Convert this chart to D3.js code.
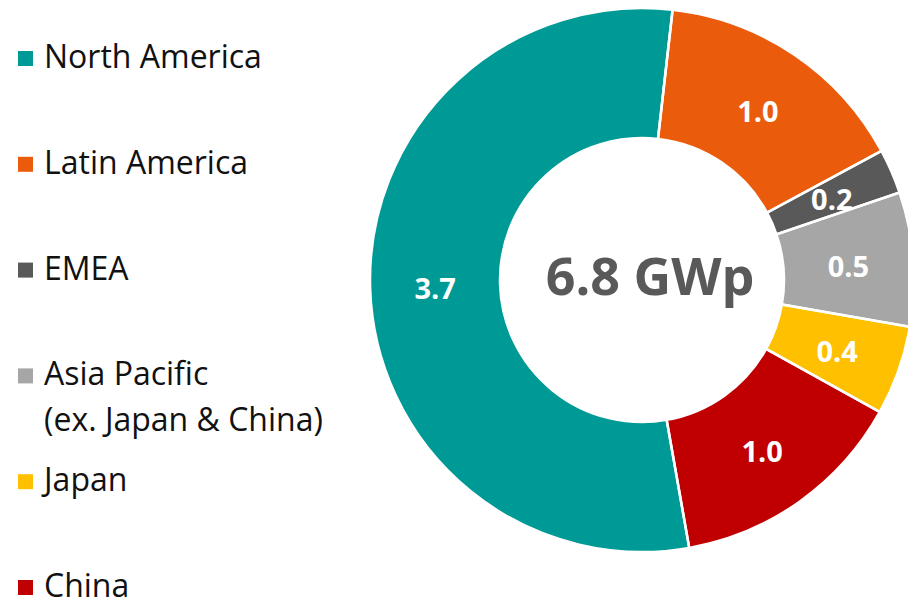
<!DOCTYPE html>
<html>
<head>
<meta charset="utf-8">
<script src="https://cdn.jsdelivr.net/npm/d3@7"></script>
<style>
  body { margin: 0; background: #fff; }
  svg { display: block; font-family: "Open Sans", "Noto Sans", sans-serif; }
</style>
</head>
<body>
<div id="chart"></div>
<script>
// Data (GWp)
const regions = ["North America", "Latin America", "EMEA", "Asia Pacific|(ex. Japan & China)", "Japan", "China"];
const values = [3.70, 1.04, 0.18, 0.54, 0.36, 0.96];
const colors = ["#009a96", "#ea5b0c", "#595959", "#a6a6a6", "#ffc000", "#c00000"];
const unit = "GWp";

const formattedData = regions.map((name, i) => ({ name, value: values[i], color: colors[i] }));

// Chart dimensions
const width = 908;
const height = 602;
const cx = 642, cy = 280;
const outerR = 272, innerR = 142;

const svg = d3.select("#chart").append("svg")
  .attr("width", width)
  .attr("height", height);

const g = svg.append("g")
  .attr("transform", `translate(${cx},${cy})`);

// Pie layout, North America starts just left of the bottom
const start = 170 * Math.PI / 180;
const pie = d3.pie()
  .sort(null)
  .value(d => d.value)
  .startAngle(start)
  .endAngle(start + 2 * Math.PI);

const arc = d3.arc()
  .innerRadius(innerR)
  .outerRadius(outerR);

const arcs = pie(formattedData);

// Slice fills
g.selectAll("path.slice")
  .data(arcs)
  .enter().append("path")
  .attr("class", "slice")
  .attr("fill", d => d.data.color)
  .attr("d", arc);

// Value labels
const fmt = d3.format(".1f");
g.selectAll("text.val")
  .data(arcs)
  .enter().append("text")
  .attr("class", "val")
  .attr("transform", d => `translate(${arc.centroid(d)})`)
  .attr("dy", "0.45em")
  .attr("text-anchor", "middle")
  .attr("fill", "#fff")
  .attr("font-weight", 700)
  .attr("font-size", 29)
  .text(d => fmt(d.data.value));

// White separators drawn on top
g.selectAll("path.sep")
  .data(arcs)
  .enter().append("path")
  .attr("class", "sep")
  .attr("fill", "none")
  .attr("stroke", "#fff")
  .attr("stroke-width", 2.5)
  .attr("d", arc);

// Total in the middle
g.append("text")
  .attr("x", 8)
  .attr("y", 15)
  .attr("text-anchor", "middle")
  .attr("fill", "#595959")
  .attr("font-weight", 700)
  .attr("font-size", 52)
  .text(`${fmt(d3.sum(values))} ${unit}`);

// Legend
const legendItems = svg.selectAll("g.legend")
  .data(formattedData)
  .enter().append("g")
  .attr("class", "legend")
  .attr("transform", (d, i) => `translate(0, ${68 + i * 105.8})`);

legendItems.append("rect")
  .attr("x", 18)
  .attr("y", -17)
  .attr("width", 15)
  .attr("height", 15)
  .attr("fill", d => d.color);

legendItems.append("text")
  .attr("font-size", 32)
  .attr("fill", "#111")
  .selectAll("tspan")
  .data(d => d.name.split("|"))
  .enter().append("tspan")
  .attr("x", 44)
  .attr("dy", (d, i) => i === 0 ? 0 : 46)
  .text(d => d);
</script>
</body>
</html>
